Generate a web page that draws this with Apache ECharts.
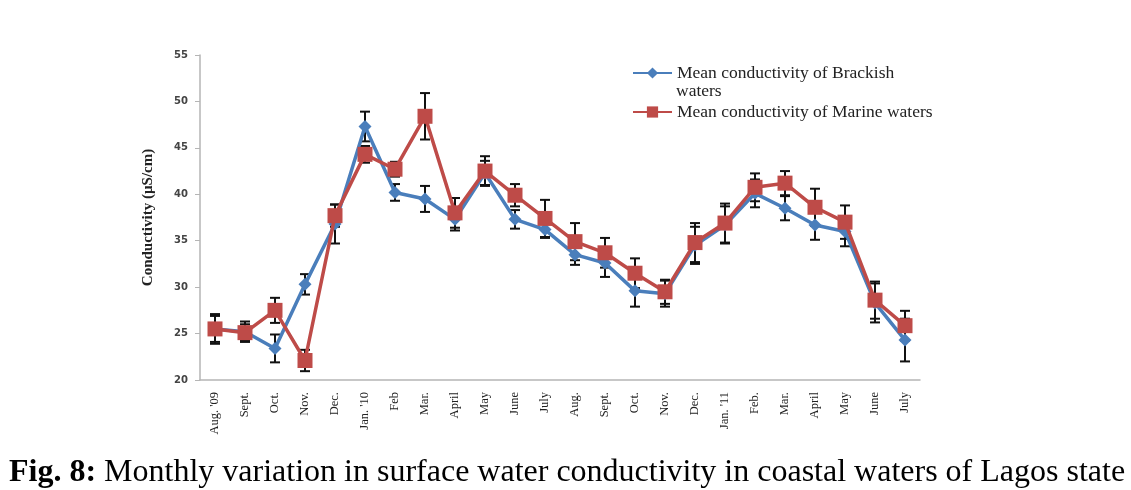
<!DOCTYPE html>
<html>
<head>
<meta charset="utf-8">
<script src="https://cdn.jsdelivr.net/npm/echarts@6/dist/echarts.min.js"></script>
<style>
  html, body { margin: 0; padding: 0; background: #fff; }
  #chart { width: 1131px; height: 490px; }
</style>
</head>
<body>
<div id="chart"></div>
<script>
// Monthly sampling periods, Aug 2009 – July 2011
const months = ["Aug. '09", "Sept.", "Oct.", "Nov.", "Dec.", "Jan. '10", "Feb", "Mar.", "April", "May", "June", "July",
                "Aug.", "Sept.", "Oct.", "Nov.", "Dec.", "Jan. '11", "Feb.", "Mar.", "April", "May", "June", "July"];

// Mean conductivity (µS/cm)
const brackish = [25.5, 25.2, 23.4, 30.3, 36.8, 47.3, 40.2, 39.5, 37.3, 42.3, 37.3, 36.2,
                  33.5, 32.6, 29.6, 29.3, 34.5, 36.7, 40.1, 38.5, 36.7, 36.0, 28.3, 24.3];
const marine   = [25.5, 25.1, 27.5, 22.1, 37.7, 44.3, 42.7, 48.4, 38.0, 42.5, 39.9, 37.4,
                  34.9, 33.7, 31.5, 29.5, 34.8, 36.9, 40.75, 41.2, 38.6, 37.0, 28.6, 25.85];

// Standard error of each monthly mean
const brackishErr = [1.4, 1.1, 1.5, 1.1, 2.1, 1.6, 0.9, 1.4, 1.2, 1.3, 1.0, 0.9,
                     1.1, 1.5, 1.7, 1.4, 2.0, 2.0, 1.5, 1.3, 1.6, 1.6, 2.1, 2.3];
const marineErr   = [1.6, 0.9, 1.35, 1.15, 1.2, 0.9, 0.8, 2.5, 1.6, 1.6, 1.2, 2.0,
                     2.0, 1.6, 1.6, 1.3, 2.1, 2.1, 1.5, 1.3, 2.0, 1.8, 2.0, 1.6];

const yTicks = { min: 20, max: 55, step: 5 };

const seriesNames = ['Mean conductivity of Brackish waters', 'Mean conductivity of Marine waters'];

const serif = 'Liberation Serif';

function errorData(vals, errs) {
  return vals.map((v, i) => [i, v - errs[i], v + errs[i]]);
}

// Vertical whisker with caps at mean ± error
function renderErrorBar(params, api) {
  const x = api.value(0);
  const lo = api.coord([x, api.value(1)]);
  const hi = api.coord([x, api.value(2)]);
  const half = 5;
  const style = { stroke: '#111', lineWidth: 2, fill: null };
  return {
    type: 'group',
    children: [
      { type: 'line', shape: { x1: hi[0], y1: hi[1], x2: lo[0], y2: lo[1] }, style: style },
      { type: 'line', shape: { x1: hi[0] - half, y1: hi[1], x2: hi[0] + half, y2: hi[1] }, style: style },
      { type: 'line', shape: { x1: lo[0] - half, y1: lo[1], x2: lo[0] + half, y2: lo[1] }, style: style }
    ]
  };
}

const chart = echarts.init(document.getElementById('chart'), null, { renderer: 'canvas' });

chart.setOption({
  animation: false,
  backgroundColor: '#ffffff',
  grid: { left: 200, right: 211, top: 55, bottom: 110, containLabel: false },
  legend: {
    data: seriesNames,
    orient: 'vertical',
    left: 627,
    top: 59,
    itemWidth: 39,
    itemHeight: 14,
    itemGap: 21,
    formatter: function (name) {
      // the brackish entry wraps; its second line is drawn just below
      return name === seriesNames[0] ? 'Mean conductivity of Brackish' : name;
    },
    textStyle: { fontFamily: serif, fontSize: 17.5, color: '#222', lineHeight: 18 }
  },
  xAxis: {
    type: 'category',
    data: months,
    boundaryGap: true,
    axisLine: { lineStyle: { color: '#b5b5b5', width: 1.5 } },
    axisTick: { show: false },
    axisLabel: {
      interval: 0,
      rotate: 90,
      margin: 12,
      fontFamily: serif,
      fontSize: 12.5,
      color: '#222'
    }
  },
  yAxis: {
    type: 'value',
    min: yTicks.min,
    max: yTicks.max,
    interval: yTicks.step,
    name: 'Conductivity (µS/cm)',
    nameLocation: 'middle',
    nameGap: 44,
    nameTextStyle: { fontFamily: serif, fontWeight: 'bold', fontSize: 15, color: '#222' },
    splitLine: { show: false },
    axisLine: { show: true, lineStyle: { color: '#b5b5b5', width: 1.5 } },
    axisTick: { show: true, length: 5, lineStyle: { color: '#b5b5b5' } },
    axisLabel: { fontFamily: 'DejaVu Sans', fontSize: 10, fontWeight: 'bold', color: '#444', margin: 12 }
  },
  series: [
    {
      type: 'custom',
      name: 'brackishErr',
      renderItem: renderErrorBar,
      data: errorData(brackish, brackishErr),
      z: 1,
      silent: true
    },
    {
      type: 'custom',
      name: 'marineErr',
      renderItem: renderErrorBar,
      data: errorData(marine, marineErr),
      z: 1,
      silent: true
    },
    {
      type: 'line',
      name: seriesNames[0],
      data: brackish,
      symbol: 'diamond',
      symbolSize: 13,
      showAllSymbol: true,
      lineStyle: { color: '#4A7EBB', width: 3.5 },
      itemStyle: { color: '#4A7EBB' },
      z: 3
    },
    {
      type: 'line',
      name: seriesNames[1],
      data: marine,
      symbol: 'rect',
      symbolSize: 15,
      showAllSymbol: true,
      lineStyle: { color: '#BE4B48', width: 3.5 },
      itemStyle: { color: '#BE4B48' },
      z: 4
    }
  ],
  graphic: [
    {
      type: 'text',
      x: 676,
      y: 91,
      style: {
        text: 'waters',
        fontFamily: serif,
        fontSize: 17.5,
        fill: '#222',
        verticalAlign: 'middle'
      }
    },
    {
      type: 'text',
      x: 9,
      y: 473,
      style: {
        text: '{b|Fig. 8:} Monthly variation in surface water conductivity in coastal waters of Lagos state',
        rich: {
          b: { fontFamily: serif, fontWeight: 'bold', fontSize: 32, fill: '#000' }
        },
        fontFamily: serif,
        fontSize: 32,
        fill: '#000',
        verticalAlign: 'middle'
      }
    }
  ]
});
</script>
</body>
</html>
